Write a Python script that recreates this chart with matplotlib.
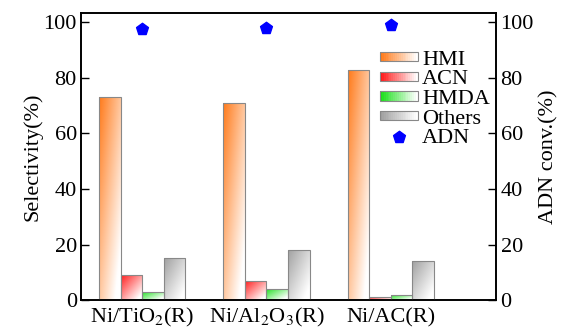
import numpy as np
import matplotlib.pyplot as plt
import matplotlib.colors as mcolors
from matplotlib.patches import Rectangle
from matplotlib.legend_handler import HandlerBase

plt.rcParams['font.family'] = ['Liberation Serif', 'DejaVu Serif']
plt.rcParams['mathtext.fontset'] = 'stix'

# Daten
catalysts = ['Ni/TiO$_2$(R)', 'Ni/Al$_2$O$_3$(R)', 'Ni/AC(R)']
hmi = [73, 71, 83]
acn = [9, 7, 1]
hmda = [3, 4, 2]
others = [15, 18, 14]
adn_conv = [97.7, 98, 99]

series = [('HMI', hmi, '#ff7a1a'),
          ('ACN', acn, '#ff1a1a'),
          ('HMDA', hmda, '#1adf1a'),
          ('Others', others, '#a0a0a0')]

FS = 16


def gradient_img(color, n=64):
    c = np.array(mcolors.to_rgb(color))
    u = np.linspace(0, 1, n)
    uu, vv = np.meshgrid(u, u)
    t = (uu + vv) / 2  # 0 oben links -> 1 unten rechts
    t = np.clip(t * 1.15, 0, 1)
    img = c[None, None, :] * (1 - t[..., None]) + np.ones(3) * t[..., None]
    return img


class GradientHandler(HandlerBase):
    def __init__(self, color):
        super().__init__()
        self.color = color

    def create_artists(self, legend, orig_handle, xdescent, ydescent, width,
                       height, fontsize, trans):
        c = np.array(mcolors.to_rgb(self.color))
        arts = []
        n = 20
        h = height * 0.6
        y0 = -ydescent + (height - h) / 2
        for i in range(n):
            t = i / (n - 1)
            col = c * (1 - t) + t
            arts.append(Rectangle((-xdescent + width * i / n, y0), width / n + 0.3, h,
                                  facecolor=col, edgecolor='none', transform=trans))
        arts.append(Rectangle((-xdescent, y0), width, h, facecolor='none',
                              edgecolor='#888888', lw=0.8, transform=trans))
        return arts


fig, ax = plt.subplots(figsize=(5.66, 3.28), dpi=100)
fig.subplots_adjust(left=0.143, right=0.877, top=0.96, bottom=0.085)

x = np.arange(len(catalysts))
w = 0.174
offsets = [-1.5, -0.5, 0.5, 1.5]
handles = []
for (name, vals, col), off in zip(series, offsets):
    bars = ax.bar(x + off * w, vals, w, facecolor='none', edgecolor='#888888',
                  lw=0.8, zorder=3)
    for b in bars:
        x0 = b.get_x()
        im = ax.imshow(gradient_img(col), extent=(x0, x0 + w, 0, b.get_height()),
                       aspect='auto', origin='upper', zorder=2)
        im.set_clip_path(b)
    handles.append(bars[0])

ax.set_xlim(-0.493, 2.85)
ax.set_ylim(0, 103.3)
ax.set_yticks([0, 20, 40, 60, 80, 100])
ax.set_xticks(x)
ax.set_xticklabels(catalysts, fontsize=FS)
for lbl in ax.get_xticklabels():
    lbl.set_verticalalignment('baseline')
ax.tick_params(axis='x', length=0, pad=16)
ax.tick_params(axis='y', direction='in', length=6, labelsize=FS, width=1, pad=3)
ax.set_ylabel('Selectivity(%)', fontsize=FS, labelpad=1)

ax2 = ax.twinx()
ax2.set_ylim(0, 103.3)
ax2.set_yticks([0, 20, 40, 60, 80, 100])
ax2.tick_params(axis='y', direction='in', length=6, labelsize=FS, width=1, pad=3)
pt = ax2.scatter(x, adn_conv, marker='p', s=80, color='#0000ff', zorder=5)
ax2.set_ylabel('ADN conv.(%)', fontsize=FS, labelpad=4)

for a in (ax, ax2):
    for s in a.spines.values():
        s.set_linewidth(1.2)

leg = ax2.legend(handles + [pt], [s[0] for s in series] + ['ADN'],
                 handler_map={h: GradientHandler(s[2]) for h, s in zip(handles, series)},
                 loc='upper right', bbox_to_anchor=(0.985, 0.875), frameon=False,
                 fontsize=FS, handlelength=1.7, handletextpad=0.2,
                 labelspacing=-0.04, borderaxespad=0, borderpad=0)

plt.savefig('out.png', dpi=100)
